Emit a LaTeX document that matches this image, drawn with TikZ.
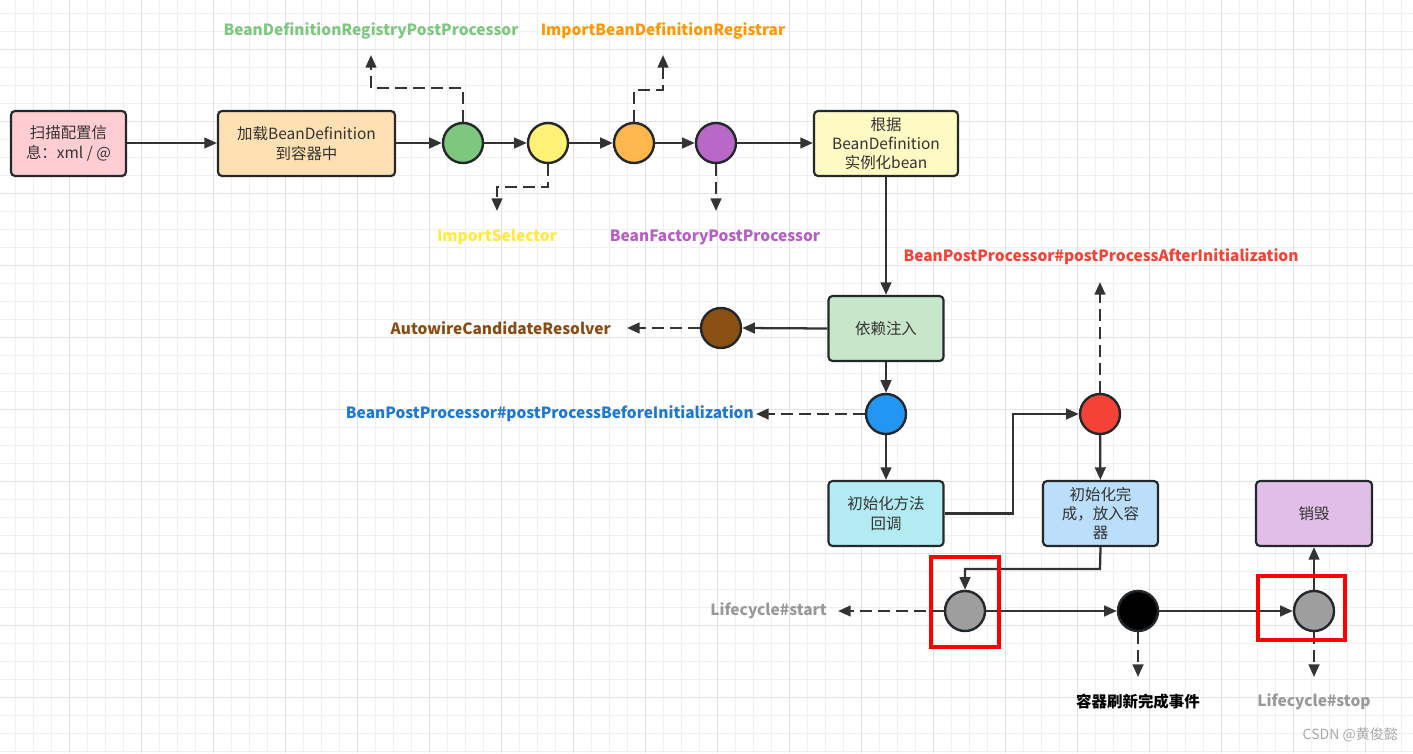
\documentclass[tikz,border=0pt]{standalone}
\usepackage{fontspec}
\setmainfont{Noto Sans CJK SC}
\usetikzlibrary{arrows.meta}
\definecolor{ln}{HTML}{333333}
\definecolor{bd}{HTML}{23282D}
\definecolor{txt}{HTML}{333333}
\definecolor{gmin}{HTML}{F0F0F0}
\definecolor{gmaj}{HTML}{E2E2E2}
\definecolor{cpink}{HTML}{FFCDD2}
\definecolor{corgl}{HTML}{FFE0B2}
\definecolor{cyell}{HTML}{FFF9C4}
\definecolor{cgrnl}{HTML}{C8E6C9}
\definecolor{ccyan}{HTML}{B2EBF2}
\definecolor{cblul}{HTML}{BBDEFB}
\definecolor{cpurl}{HTML}{E1BEE7}
\definecolor{kgreen}{HTML}{7EC77F}
\definecolor{kyellow}{HTML}{FFF176}
\definecolor{korange}{HTML}{FFB74D}
\definecolor{kpurple}{HTML}{BA68C8}
\definecolor{kbrown}{HTML}{8B5014}
\definecolor{kblue}{HTML}{2196F3}
\definecolor{kred}{HTML}{F44336}
\definecolor{kgray}{HTML}{9E9E9E}
\definecolor{tgreen}{HTML}{7EC77F}
\definecolor{tyellow}{HTML}{FFEB3B}
\definecolor{torange}{HTML}{FF9800}
\definecolor{tpurple}{HTML}{B55FC6}
\definecolor{tbrown}{HTML}{8B4C13}
\definecolor{tblue}{HTML}{1E78D2}
\definecolor{tred}{HTML}{F44336}
\definecolor{tgray}{HTML}{999999}
\tikzset{
  box/.style={draw=bd, line width=1.6pt, rounded corners=3pt, text=txt, align=center,
    font=\fontsize{11.6}{14.5}\selectfont, minimum height=48.75pt, inner sep=1pt},
  dot/.style={circle, draw=bd, line width=1.8pt, minimum size=30pt, inner sep=0pt},
  flow/.style={draw=ln, line width=1.7pt, -{Triangle[length=9.5pt,width=8pt]}},
  dflow/.style={flow, dash pattern=on 8.5pt off 5pt},
  lbl/.style={font=\fontsize{11.6}{13}\selectfont\bfseries, inner sep=0pt},
  redmark/.style={draw=red, line width=2.5pt}
}
\begin{document}
\begin{tikzpicture}[x=0.75pt,y=-0.75pt]
\useasboundingbox (0,0) rectangle (1413,753);
\fill[white] (0,0) rectangle (1413,753);
% grid
\foreach \i in {0,...,78} {\draw[gmin, line width=0.6pt] ({15.3+18*\i},0) -- ({15.3+18*\i},753);}
\foreach \i in {0,...,41} {\draw[gmin, line width=0.6pt] (0,{13.3+18*\i}) -- (1413,{13.3+18*\i});}
\foreach \i in {0,...,19} {\draw[gmaj, line width=0.7pt] ({69.3+72*\i},0) -- ({69.3+72*\i},753);}
\foreach \i in {0,...,10} {\draw[gmaj, line width=0.7pt] (0,{49.3+72*\i}) -- (1413,{49.3+72*\i});}

% boxes
\node[box, fill=cpink, minimum width=86.25pt] (scan) at (68.5,143.5) {扫描配置信\\息：xml / @};
\node[box, fill=corgl, minimum width=132.75pt] (load) at (306.5,143.5) {加载BeanDefinition\\到容器中};
\node[box, fill=cyell, minimum width=108pt] (inst) at (886,143.5) {根据\\BeanDefinition\\实例化bean};
\node[box, fill=cgrnl, minimum width=86.25pt] (di) at (886,328.5) {依赖注入};
\node[box, fill=ccyan, minimum width=86.25pt] (init) at (886,513.5) {初始化方法\\回调};
\node[box, fill=cblul, minimum width=86.25pt] (done) at (1100.5,513.5) {初始化完\\成，放入容\\器};
\node[box, fill=cpurl, minimum width=87pt] (destroy) at (1314,513.5) {销毁};

% dots
\node[dot, fill=kgreen] (g) at (463,143) {};
\node[dot, fill=kyellow] (y) at (548,143) {};
\node[dot, fill=korange] (o) at (634,143) {};
\node[dot, fill=kpurple] (p) at (716,143) {};
\node[dot, fill=kbrown] (br) at (721,328) {};
\node[dot, fill=kblue] (bl) at (886,414) {};
\node[dot, fill=kred] (rd) at (1100,414) {};
\node[dot, fill=kgray] (s1) at (965,611) {};
\node[dot, fill=black] (bk) at (1138,611) {};
\node[dot, fill=kgray] (s2) at (1314,611) {};

% labels
\node[lbl, text=tgreen] (lg) at (371,31) {BeanDefinitionRegistryPostProcessor};
\node[lbl, text=torange] (lo) at (663,31) {ImportBeanDefinitionRegistrar};
\node[lbl, text=tyellow] (ly) at (497,237) {ImportSelector};
\node[lbl, text=tpurple] (lp) at (715,237) {BeanFactoryPostProcessor};
\node[lbl, text=tred] (lr) at (1101,257) {BeanPostProcessor\#postProcessAfterInitialization};
\node[lbl, text=tbrown, anchor=east] (lbr) at (611,328) {AutowireCandidateResolver};
\node[lbl, text=tblue, anchor=east] (lbl) at (754,414) {BeanPostProcessor\#postProcessBeforeInitialization};
\node[lbl, text=tgray, anchor=east] (ls) at (827,611) {Lifecycle\#start};
\node[lbl, text=black] (le) at (1138,702) {容器刷新完成事件};
\node[lbl, text=tgray] (lt) at (1314,702) {Lifecycle\#stop};
\node[font=\fontsize{10.5}{12}\selectfont, text=tgray!85, anchor=east, inner sep=0pt] (wm) at (1398,735) {CSDN @黄俊懿};

% free ends
\coordinate (eg) at (371,55);
\coordinate (eo) at (663,55);
\coordinate (ey) at (497,211);
\coordinate (ep) at (716,211);
\coordinate (er) at (1100,282);
\coordinate (ebr) at (627,328);
\coordinate (ebl) at (756,414);
\coordinate (es) at (838,611);
\coordinate (ek) at (1138,677);
\coordinate (e2) at (1314,677);

% main flow
\draw[flow] (scan.east |- 0,143) -- (load.west |- 0,143);
\draw[flow] (load.east |- 0,143) -- (g.west);
\draw[flow] (g) -- (y);
\draw[flow] (y) -- (o);
\draw[flow] (o) -- (p);
\draw[flow] (p) -- (inst.west |- p);
\draw[flow] (inst) -- (di);
\draw[flow] (di.west) -- (br.east);
\draw[flow] (di) -- (bl);
\draw[flow] (bl) -- (init);
\draw[flow] (init.east) -- (1013,513.5) -- (1013,414) -- (rd.west);
\draw[flow] (rd) -- (done);
\draw[flow] (done.south) -- (1100,569) -- (965,569) -- (s1.north);
\draw[flow] (s1) -- (bk);
\draw[flow] (bk) -- (s2);
\draw[flow] (s2) -- (destroy);

% dashed
\draw[dflow] (g.north) -- (463,88) -- (371,88) -- (eg);
\draw[dflow] (o.north) -- (634,90) -- (663,90) -- (eo);
\draw[dflow] (y.south) -- (548,187) -- (497,187) -- (ey);
\draw[dflow] (p.south) -- (ep);
\draw[dflow] (rd.north) -- (er);
\draw[dflow] (br.west) -- (ebr);
\draw[dflow] (bl.west) -- (ebl);
\draw[dflow] (s1.west) -- (es);
\draw[dflow] (bk.south) -- (ek);
\draw[dflow] (s2.south) -- (e2);

% red marks
\draw[redmark] (931,557) rectangle (999,647);
\draw[redmark] (1258,576) rectangle (1345,640);
\end{tikzpicture}
\end{document}
